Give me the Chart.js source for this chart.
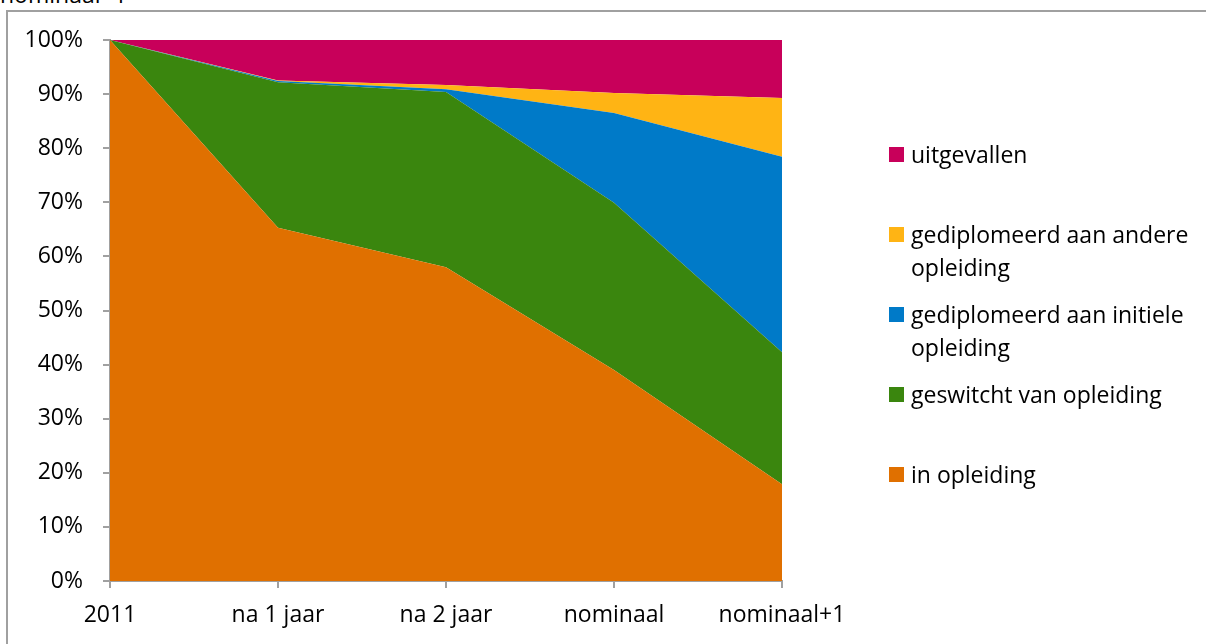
<!DOCTYPE html>
<html>
<head>
<meta charset="utf-8">
<script src="https://cdn.jsdelivr.net/npm/chart.js@4/dist/chart.umd.min.js"></script>
<style>
  html, body { margin: 0; padding: 0; background: #fff; overflow: hidden; }
  body { width: 1206px; height: 644px; position: relative; font-family: "Open Sans", sans-serif; }
  #frame { position: absolute; left: 6px; top: 10px; right: -10px; bottom: -10px;
           border-left: 2px solid #a0a0a0; border-top: 2px solid #a0a0a0; }
  #cut { position: absolute; left: 0; top: -21px; font-size: 23px; line-height: 30px; color: #000; }
  #chart { position: absolute; left: 0; top: 0; }
  #legend { position: absolute; left: 889px; top: 138px; }
  .item { height: 80px; display: flex; align-items: flex-start; }
  .sw { width: 15px; height: 15px; margin-top: 9px; margin-right: 7px; flex: none; }
  .lbl { font-size: 23px; line-height: 33px; color: #000; width: 300px; margin-top: 0; }
</style>
</head>
<body>
<div id="cut">nominaal+1</div>
<div id="frame"></div>
<canvas id="chart" width="1206" height="644"></canvas>
<div id="legend"></div>
<script>
const categories = ['2011', 'na 1 jaar', 'na 2 jaar', 'nominaal', 'nominaal+1'];

// shares in percent, stacked from bottom to top
const inOpleiding = [100, 65.3, 58.0, 39.0, 17.9];
const geswitcht = [0, 26.9, 32.4, 30.9, 24.4];
const diplomaInitieel = [0, 0.2, 0.5, 16.6, 36.1];
const diplomaAnders = [0, 0.1, 0.8, 3.7, 10.9];
const uitgevallen = [0, 7.5, 8.3, 9.8, 10.7];

const seriesNames = ['in opleiding', 'geswitcht van opleiding', 'gediplomeerd aan initiele opleiding',
    'gediplomeerd aan andere opleiding', 'uitgevallen'];
const seriesValues = [inOpleiding, geswitcht, diplomaInitieel, diplomaAnders, uitgevallen];
const seriesColors = ['#e07000', '#3a860e', '#007ac8', '#ffb414', '#c8005a'];

const axisColor = '#a0a0a0';
const tickFont = { family: 'Open Sans', size: 23 };

const datasets = seriesNames.map((name, i) => ({
    label: name,
    data: seriesValues[i],
    backgroundColor: seriesColors[i],
    borderColor: seriesColors[i],
    borderWidth: 0,
    pointRadius: 0,
    tension: 0,
    fill: i === 0 ? 'origin' : '-1'
}));

new Chart(document.getElementById('chart'), {
    type: 'line',
    data: { labels: categories, datasets: datasets },
    options: {
        responsive: false,
        animation: false,
        layout: { padding: { top: 40, right: 424, left: 0, bottom: 0 } },
        plugins: { legend: { display: false }, tooltip: { enabled: false } },
        scales: {
            x: {
                offset: false,
                grid: { drawOnChartArea: false, color: axisColor, tickLength: 7, lineWidth: 2 },
                border: { color: axisColor, width: 2 },
                ticks: { color: '#000', font: tickFont, padding: 14, maxRotation: 0, autoSkip: false },
                afterFit: s => { s.height = 63; }
            },
            y: {
                stacked: true,
                min: 0,
                max: 100,
                grid: { drawOnChartArea: false, color: axisColor, tickLength: 7, lineWidth: 2 },
                border: { color: axisColor, width: 2 },
                ticks: { stepSize: 10, color: '#000', font: tickFont, padding: 20, callback: v => v + '%' },
                afterFit: s => { s.width = 110; }
            }
        }
    }
});

// legend: top entry is the top area
const legend = document.getElementById('legend');
for (let i = seriesNames.length - 1; i >= 0; i--) {
    const item = document.createElement('div');
    item.className = 'item';
    const sw = document.createElement('div');
    sw.className = 'sw';
    sw.style.background = seriesColors[i];
    const lbl = document.createElement('div');
    lbl.className = 'lbl';
    lbl.textContent = seriesNames[i];
    item.appendChild(sw);
    item.appendChild(lbl);
    legend.appendChild(item);
}
</script>
</body>
</html>
